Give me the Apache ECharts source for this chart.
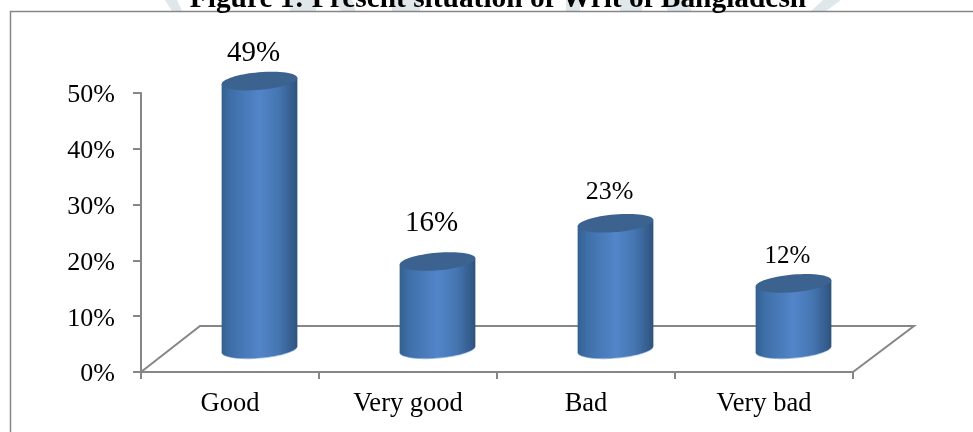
<!DOCTYPE html>
<html>
<head>
<meta charset="utf-8">
<style>html,body{margin:0;padding:0;background:#fff}#chart{width:973px;height:432px}</style>
<script src="https://cdn.jsdelivr.net/npm/echarts@6/dist/echarts.min.js"></script>
</head>
<body>
<div id="chart"></div>
<script>
// Survey results, in percent
const categories = ['Good', 'Very good', 'Bad', 'Very bad'];
const shares = [49, 16, 23, 12];
const tickValues = [0, 10, 20, 30, 40, 50];

// Label styling per column
const labelSizes = [29, 29, 26, 25];
const labelLift = [28, 38, 31, 27];

// Pseudo-3D floor and cylinder proportions
const depthX = 59;
const depthY = 46;
const cylinderA = 38;
const cylinderB = 8.8;
const tilt = -4.9 * Math.PI / 180;
const foreshorten = 0.98;

const FONT = '"Liberation Serif", "Times New Roman", serif';
const AXIS = '#868686';

// Points round a tilted ellipse, t in [t0, t1]
function ellipsePoints(cx, cy, t0, t1, n) {
  const out = [];
  for (let i = 0; i <= n; i++) {
    const t = t0 + (t1 - t0) * i / n;
    const px = cylinderA * Math.cos(t), py = cylinderB * Math.sin(t);
    out.push([cx + px * Math.cos(tilt) - py * Math.sin(tilt),
              cy + px * Math.sin(tilt) + py * Math.cos(tilt)]);
  }
  return out;
}

// Angle where the ellipse reaches its rightmost x
const tRight = Math.atan2(-cylinderB * Math.sin(tilt), cylinderA * Math.cos(tilt));

function renderCylinder(params, api) {
  const i = api.value(0), v = api.value(1);
  const base = api.coord([i, 0]);
  const top = api.coord([i, v]);
  const cx = base[0] + depthX / 2;
  const by = base[1] - depthY / 2;
  const ty = by - (base[1] - top[1]) * foreshorten;

  const front = ellipsePoints(cx, by, tRight, tRight + Math.PI, 48);
  const rim = ellipsePoints(cx, ty, tRight, tRight + Math.PI, 48);
  const left = rim[rim.length - 1];
  const right = rim[0];
  const body = [left, right].concat(front);

  return {
    type: 'group',
    children: [
      {
        type: 'polygon',
        shape: { points: ellipsePoints(cx, by + 0.8, 0, Math.PI * 2, 64) },
        style: { fill: '#9fc0e6' }
      },
      {
        type: 'polygon',
        shape: { points: body },
        style: {
          fill: {
            type: 'linear', x: 0, y: 0, x2: 1, y2: 0,
            colorStops: [
              { offset: 0, color: '#33608f' },
              { offset: 0.12, color: '#3f6fa8' },
              { offset: 0.5, color: '#5285c9' },
              { offset: 0.75, color: '#4576b2' },
              { offset: 0.93, color: '#355d8e' },
              { offset: 1, color: '#2f5279' }
            ]
          }
        }
      },
      {
        type: 'polygon',
        shape: { points: ellipsePoints(cx, ty, 0, Math.PI * 2, 64) },
        style: { fill: '#3c628f' }
      },
      {
        type: 'text',
        style: {
          text: v + '%',
          x: cx - 6,
          y: ty - labelLift[i],
          align: 'center',
          verticalAlign: 'middle',
          font: labelSizes[i] + 'px ' + FONT,
          fill: '#000'
        }
      }
    ]
  };
}

// Floor outline: left edge, back edge, right edge
function renderFloor(params, api) {
  const band = api.size([1, 0])[0];
  const first = api.coord([0, 0]);
  const last = api.coord([categories.length - 1, 0]);
  const a = [first[0] - band / 2, first[1]];
  const b = [last[0] + band / 2, last[1]];
  return {
    type: 'polyline',
    shape: { points: [a, [a[0] + depthX, a[1] - depthY], [b[0] + depthX + 2, b[1] - depthY], b] },
    style: { stroke: AXIS, lineWidth: 2, fill: null }
  };
}

// Pale backdrop bands and page frame around the plot
const bands = [
  [[165, 0], [177, 0], [182, 11], [172, 11]],
  [[290, 0], [316, 0], [316, 11], [290, 11]],
  [[335, 0], [352, 0], [356, 11], [341, 11]],
  [[392, 0], [420, 0], [420, 11], [392, 11]],
  [[566, 0], [580, 0], [580, 11], [566, 11]],
  [[620, 0], [642, 0], [642, 11], [620, 11]],
  [[663, 0], [686, 0], [692, 11], [668, 11]],
  [[823, 0], [841, 0], [826, 11], [811, 11]]
];
const backdrop = bands.map(points => ({
  type: 'polygon', silent: true, z: 0,
  shape: { points: points },
  style: { fill: '#dfe7ea' }
}));

const chart = echarts.init(document.getElementById('chart'), null, { renderer: 'canvas' });
chart.setOption({
  animation: false,
  backgroundColor: '#fff',
  title: {
    text: 'Figure 1: Present situation of Writ of Bangladesh',
    left: 493, top: -20, textAlign: 'center',
    textStyle: { fontFamily: FONT, fontSize: 29.4, fontWeight: 'bold', color: '#000' }
  },
  graphic: backdrop.concat([{
    type: 'polyline', silent: true, z: 1,
    shape: { points: [[10.5, 432], [10.5, 11.5], [973, 11.5]] },
    style: { stroke: '#868686', lineWidth: 1.5, fill: null }
  }]),
  grid: { left: 141, right: 120, top: 93, bottom: 60 },
  xAxis: {
    type: 'category',
    data: categories,
    axisLine: { lineStyle: { color: AXIS, width: 2 } },
    axisTick: { show: true, alignWithLabel: false, length: 7, lineStyle: { color: AXIS, width: 2 } },
    axisLabel: { fontFamily: FONT, fontSize: 26.5, color: '#000', margin: 19 }
  },
  yAxis: {
    type: 'value',
    min: tickValues[0],
    max: tickValues[tickValues.length - 1],
    interval: 10,
    axisLine: { show: true, lineStyle: { color: AXIS, width: 2 } },
    axisTick: { show: true, length: 8, lineStyle: { color: AXIS, width: 2 } },
    splitLine: { show: false },
    axisLabel: {
      fontFamily: FONT, fontSize: 26, color: '#000', margin: 26,
      verticalAlign: 'top', verticalAlignMinLabel: 'top', verticalAlignMaxLabel: 'top',
      lineHeight: 5,
      formatter: '{value}%'
    }
  },
  series: [
    { type: 'custom', z: 1, data: [[0, 0]], renderItem: renderFloor, silent: true },
    { type: 'custom', z: 3, data: shares.map((v, i) => [i, v]), renderItem: renderCylinder, clip: false,
      encode: { x: 0, y: 1 } }
  ]
});
</script>
</body>
</html>
